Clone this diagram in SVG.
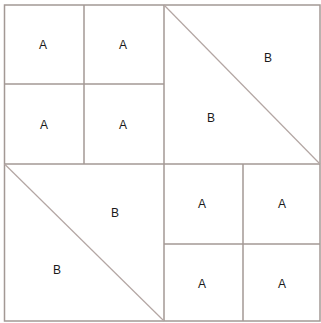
<svg xmlns="http://www.w3.org/2000/svg" width="321" height="323" viewBox="0 0 321 323">
<style>
.ln{stroke:#a39995;stroke-width:1.5;fill:none}
.dg{stroke:#b3a6a3;stroke-width:1.2;fill:none}
.lb{font-family:"Liberation Sans",Arial,sans-serif;font-size:12px;fill:#1a1a1a;text-anchor:middle}
</style>
<rect width="321" height="323" fill="#fff"/>
<g id="connectors">
<rect class="ln" x="4.5" y="5" width="315.5" height="316"/>
<line class="ln" x1="164" y1="5" x2="164" y2="321"/>
<line class="ln" x1="4.5" y1="164" x2="320" y2="164"/>
<line class="ln" x1="84" y1="5" x2="84" y2="164"/>
<line class="ln" x1="4.5" y1="84" x2="164" y2="84"/>
<line class="ln" x1="243" y1="164" x2="243" y2="321"/>
<line class="ln" x1="164" y1="244" x2="320" y2="244"/>
<line class="dg" x1="164" y1="5" x2="320" y2="164"/>
<line class="dg" x1="4.5" y1="164" x2="164" y2="321"/>
</g>
<g id="tl1"><text class="lb" x="43" y="48.5">A</text></g>
<g id="tl2"><text class="lb" x="123" y="48.5">A</text></g>
<g id="tl3"><text class="lb" x="44" y="128.5">A</text></g>
<g id="tl4"><text class="lb" x="123" y="128.5">A</text></g>
<g id="tr1"><text class="lb" x="268" y="61.5">B</text></g>
<g id="tr2"><text class="lb" x="211" y="121.5">B</text></g>
<g id="bl1"><text class="lb" x="115" y="216.5">B</text></g>
<g id="bl2"><text class="lb" x="57" y="273.5">B</text></g>
<g id="br1"><text class="lb" x="202" y="207.5">A</text></g>
<g id="br2"><text class="lb" x="282" y="207.5">A</text></g>
<g id="br3"><text class="lb" x="202" y="287.5">A</text></g>
<g id="br4"><text class="lb" x="282" y="287.5">A</text></g>
</svg>
